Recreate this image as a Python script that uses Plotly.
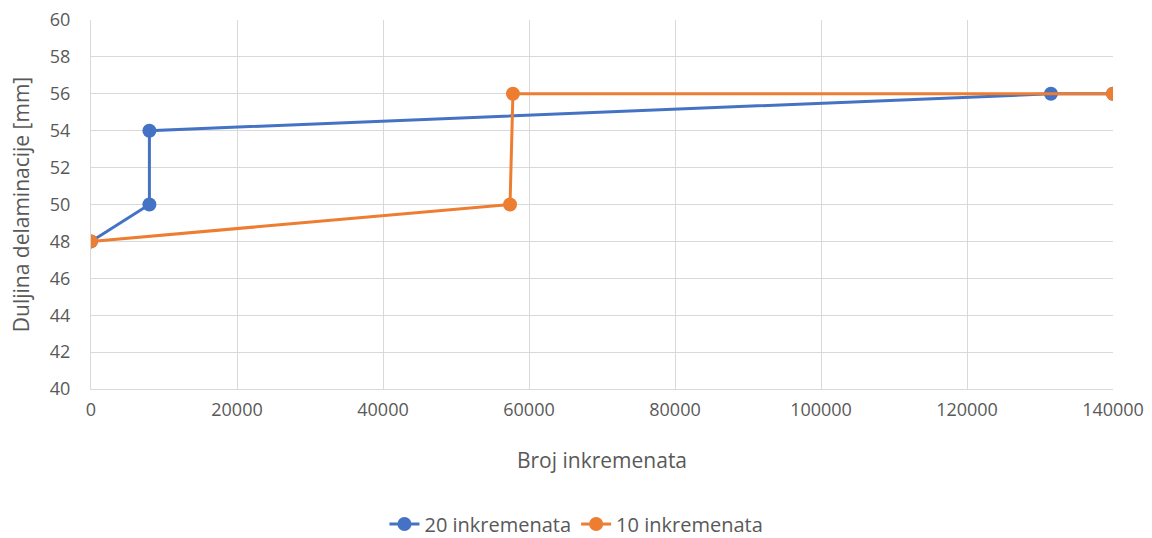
import plotly.graph_objects as go

# 20 inkremenata
x_20 = [0, 8000, 8000, 131500, 140000]
y_20 = [48, 50, 54, 56, 56]

# 10 inkremenata
x_10 = [0, 57400, 57800, 140000]
y_10 = [48, 50, 56, 56]

font_color = '#595959'
grid_color = '#d9d9d9'

fig = go.Figure()

fig.add_trace(go.Scatter(
    x=x_20, y=y_20,
    mode='lines+markers',
    name='20 inkremenata',
    line=dict(color='#4472c4', width=3),
    marker=dict(size=14, color='#4472c4')
))

fig.add_trace(go.Scatter(
    x=x_10, y=y_10,
    mode='lines+markers',
    name='10 inkremenata',
    line=dict(color='#ed7d31', width=3),
    marker=dict(size=14, color='#ed7d31')
))

fig.update_layout(
    width=1152,
    height=538,
    plot_bgcolor='white',
    paper_bgcolor='white',
    font=dict(family='Open Sans', size=18, color=font_color),
    margin=dict(l=91, r=39, t=20, b=149, autoexpand=False),
    legend=dict(
        orientation='h',
        x=0.475, xanchor='center',
        y=-0.366, yanchor='middle',
        font=dict(size=20, color=font_color),
        tracegroupgap=0,
    ),
    xaxis=dict(
        title=dict(text='Broj inkremenata', font=dict(size=21), standoff=33),
        range=[0, 140000],
        dtick=20000,
        tickformat='d',
        showgrid=True,
        gridcolor=grid_color,
        gridwidth=1,
        zeroline=False,
        showline=True,
        linecolor=grid_color,
        linewidth=1,
        ticks='',
        ticklabelstandoff=4,
        automargin=False,
    ),
    yaxis=dict(
        title=dict(text='Duljina delaminacije [mm]', font=dict(size=21), standoff=14),
        range=[40, 60],
        dtick=2,
        showgrid=True,
        gridcolor=grid_color,
        gridwidth=1,
        zeroline=False,
        showline=True,
        linecolor=grid_color,
        linewidth=1,
        ticks='',
        ticklabelstandoff=16,
        automargin=False,
    ),
)

# drop the default page margin so the figure fills the window
fig.write_html(
    "out.html",
    config={'displayModeBar': False},
    post_script="document.body.style.margin='0';",
)
